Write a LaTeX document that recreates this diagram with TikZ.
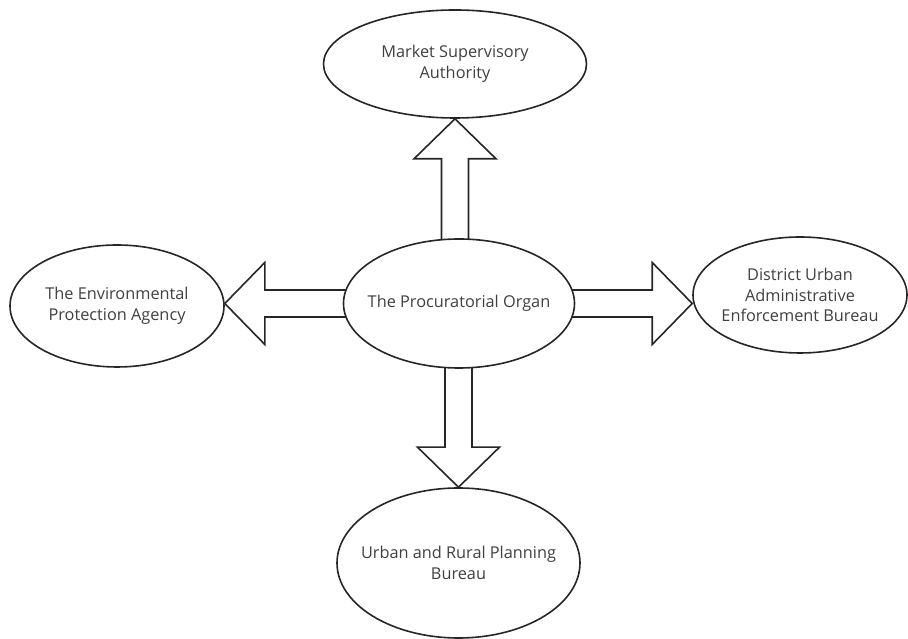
\documentclass[tikz,border=0pt]{standalone}
\usepackage{fontspec}
\setmainfont{Open Sans}
\usetikzlibrary{calc,backgrounds,shapes.geometric}
\begin{document}
\begin{tikzpicture}[x=1pt,y=1pt,
  organ/.style={ellipse,draw=black!85,line width=1.6pt,fill=white,inner sep=-25pt,
    align=center,text=black!75,font=\fontsize{16.3}{20.5}\selectfont},
  fatarrow/.style={draw=black!85,line width=1.6pt,fill=white,line join=miter}]
\useasboundingbox (0,0) rectangle (908,639);
\node[organ,minimum width=231,minimum height=129] (c) at (459,335.5) {The Procuratorial Organ};
\node[organ,minimum width=263,minimum height=108] (t) at (455,575) {Market Supervisory\\Authority};
\node[organ,minimum width=243,minimum height=150] (b) at (458.5,76) {Urban and Rural Planning\\Bureau};
\node[organ,minimum width=214,minimum height=122] (l) at (117,333) {The Environmental\\Protection Agency};
\node[organ,minimum width=214,minimum height=116] (r) at (800,344) {District Urban\\Administrative\\Enforcement Bureau};
\begin{scope}[on background layer]
% up
\draw[fatarrow] ($(t.south |- c.center)+(-13.5,0)$) -- ($(t.south)+(-13.5,-40)$) -- ($(t.south)+(-41,-40)$) -- (t.south) -- ($(t.south)+(41,-40)$) -- ($(t.south)+(13.5,-40)$) -- ($(t.south |- c.center)+(13.5,0)$) -- cycle;
% down
\draw[fatarrow] ($(b.north |- c.center)+(-13.5,0)$) -- ($(b.north)+(-13.5,40)$) -- ($(b.north)+(-41,40)$) -- (b.north) -- ($(b.north)+(41,40)$) -- ($(b.north)+(13.5,40)$) -- ($(b.north |- c.center)+(13.5,0)$) -- cycle;
% left
\coordinate (lt) at (l.east |- c.center);
\draw[fatarrow] ($(c.center)+(0,13.5)$) -- ($(lt)+(40,13.5)$) -- ($(lt)+(40,41)$) -- (lt) -- ($(lt)+(40,-41)$) -- ($(lt)+(40,-13.5)$) -- ($(c.center)+(0,-13.5)$) -- cycle;
% right
\coordinate (rt) at (r.west |- c.center);
\draw[fatarrow] ($(c.center)+(0,13.5)$) -- ($(rt)+(-40,13.5)$) -- ($(rt)+(-40,41)$) -- (rt) -- ($(rt)+(-40,-41)$) -- ($(rt)+(-40,-13.5)$) -- ($(c.center)+(0,-13.5)$) -- cycle;
\end{scope}
\end{tikzpicture}
\end{document}
